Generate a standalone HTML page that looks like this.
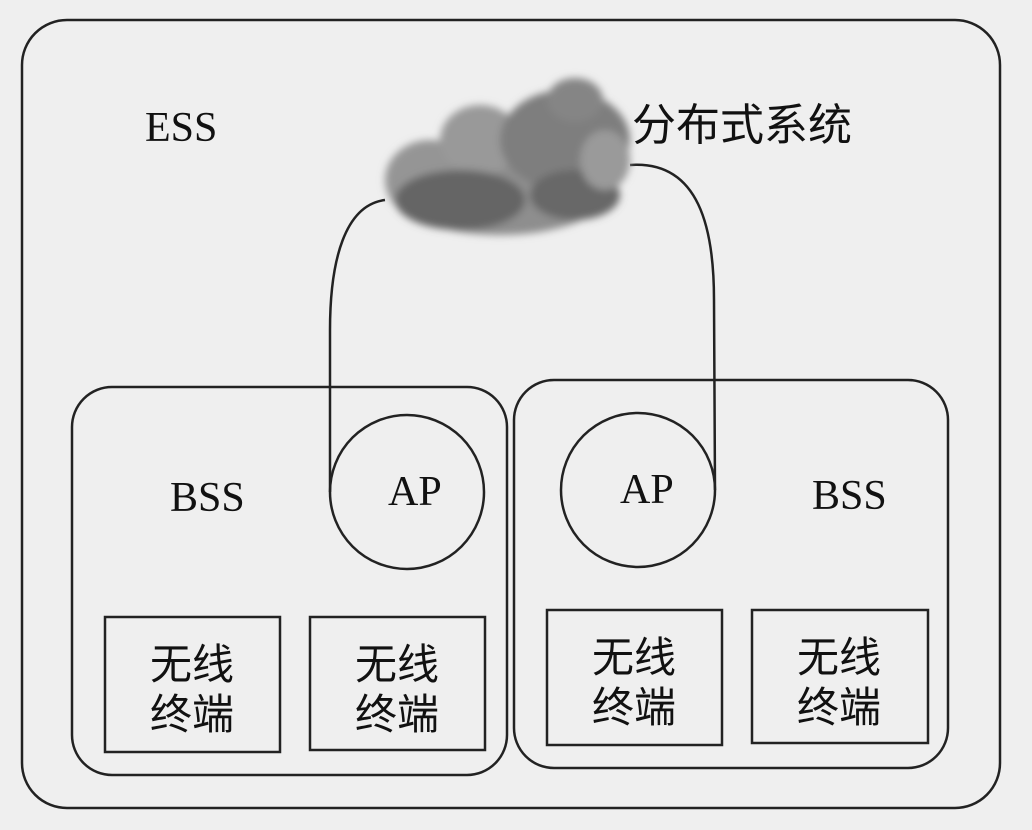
<!DOCTYPE html>
<html><head><meta charset="utf-8"><style>
html,body{margin:0;padding:0;background:#efefef;}
svg{display:block}
text{font-family:"Liberation Serif","Noto Serif CJK SC",serif;fill:#111}
.cj{font-family:"Liberation Sans","Noto Sans CJK SC",sans-serif}
</style></head><body>
<svg width="1032" height="830" viewBox="0 0 1032 830">
<defs>
<filter id="b" x="-20%" y="-20%" width="140%" height="140%"><feGaussianBlur stdDeviation="4"/></filter>
</defs>
<rect width="1032" height="830" fill="#efefef"/>
<rect x="22" y="20" width="978" height="788" rx="45" fill="none" stroke="#222" stroke-width="2.5"/>
<rect x="72" y="387" width="435" height="388" rx="40" fill="none" stroke="#222" stroke-width="2.5"/>
<rect x="514" y="380" width="434" height="388" rx="40" fill="none" stroke="#222" stroke-width="2.5"/>
<circle cx="407" cy="492" r="77" fill="none" stroke="#222" stroke-width="2.5"/>
<circle cx="638" cy="490" r="77" fill="none" stroke="#222" stroke-width="2.5"/>
<path d="M385 200 C 345 205, 330 260, 330 330 L 330 492" fill="none" stroke="#222" stroke-width="2.5"/>
<path d="M630 165 C 700 160, 714 230, 714 300 L 715 490" fill="none" stroke="#222" stroke-width="2.5"/>
<rect x="105" y="617" width="175" height="135" fill="none" stroke="#222" stroke-width="2.5"/>
<rect x="310" y="617" width="175" height="133" fill="none" stroke="#222" stroke-width="2.5"/>
<rect x="547" y="610" width="175" height="135" fill="none" stroke="#222" stroke-width="2.5"/>
<rect x="752" y="610" width="176" height="133" fill="none" stroke="#222" stroke-width="2.5"/>
<g filter="url(#b)">
<ellipse cx="500" cy="190" rx="110" ry="45" fill="#8e8e8e"/>
<ellipse cx="430" cy="180" rx="45" ry="40" fill="#959595"/>
<ellipse cx="480" cy="140" rx="40" ry="35" fill="#999"/>
<ellipse cx="565" cy="140" rx="65" ry="50" fill="#7e7e7e"/>
<ellipse cx="575" cy="100" rx="28" ry="22" fill="#858585"/>
<ellipse cx="460" cy="200" rx="65" ry="30" fill="#656565"/>
<ellipse cx="575" cy="195" rx="45" ry="25" fill="#686868"/>
<ellipse cx="605" cy="160" rx="25" ry="30" fill="#9a9a9a"/>
</g>
<text x="145" y="141" font-size="42">ESS</text>
<text x="632" y="140" font-size="44" class="cj">分布式系统</text>
<text x="170" y="511" font-size="42">BSS</text>
<text x="388" y="505" font-size="42">AP</text>
<text x="620" y="503" font-size="42">AP</text>
<text x="812" y="509" font-size="42">BSS</text>
<g class="cj" font-size="42">
<text x="150" y="679" class="cj">无线</text><text x="150" y="729" class="cj">终端</text>
<text x="355" y="679" class="cj">无线</text><text x="355" y="729" class="cj">终端</text>
<text x="592" y="672" class="cj">无线</text><text x="592" y="722" class="cj">终端</text>
<text x="797" y="672" class="cj">无线</text><text x="797" y="722" class="cj">终端</text>
</g>
</svg>
</body></html>
